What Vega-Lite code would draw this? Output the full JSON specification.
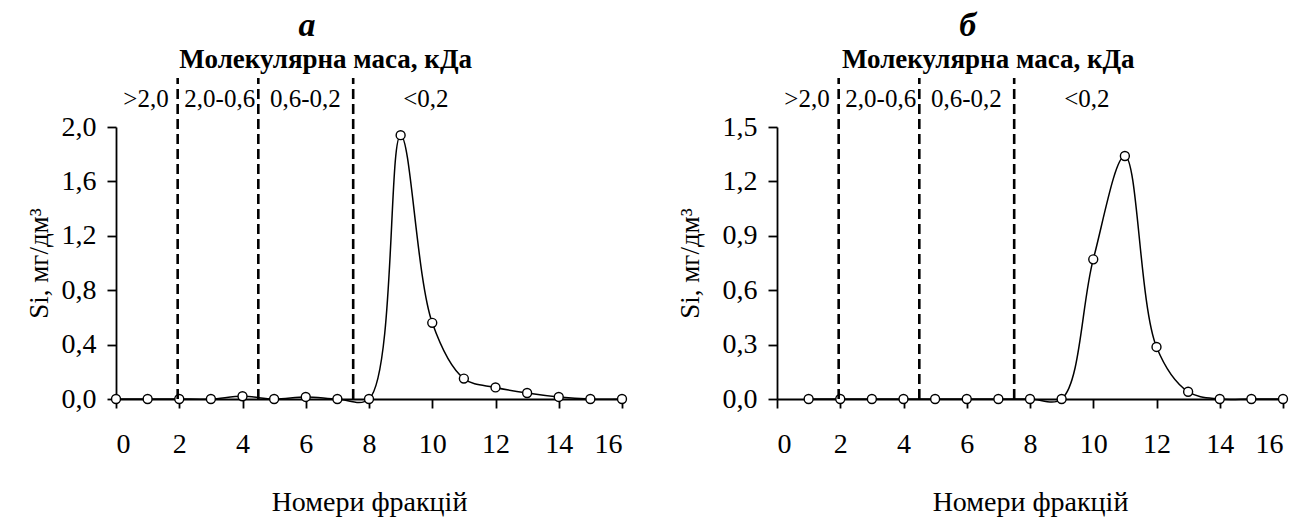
{
  "$schema": "https://vega.github.io/schema/vega-lite/v6.json",
  "padding": {"left": 25, "top": 8, "right": 5, "bottom": 5},
  "background": "white",
  "config": {
    "font": "Liberation Serif",
    "view": {"stroke": null},
    "axis": {"grid": false, "domainColor": "black", "domainWidth": 1.8, "tickColor": "black", "tickWidth": 1.8, "tickSize": 9, "labelColor": "black", "labelFont": "Liberation Serif", "labelFontSize": 28, "titleFont": "Liberation Serif", "titleFontSize": 28, "titleFontWeight": "normal", "titleColor": "black"},
    "concat": {"spacing": 46}
  },
  "datasets": {
    "a": [
      {"fraction": 0, "si": 0}, {"fraction": 1, "si": 0}, {"fraction": 2, "si": 0}, {"fraction": 3, "si": 0},
      {"fraction": 4, "si": 0.02}, {"fraction": 5, "si": 0}, {"fraction": 6, "si": 0.015}, {"fraction": 7, "si": 0},
      {"fraction": 8, "si": 0}, {"fraction": 9, "si": 1.94}, {"fraction": 10, "si": 0.56}, {"fraction": 11, "si": 0.15},
      {"fraction": 12, "si": 0.085}, {"fraction": 13, "si": 0.044}, {"fraction": 14, "si": 0.015}, {"fraction": 15, "si": 0},
      {"fraction": 16, "si": 0}
    ],
    "b": [
      {"fraction": 1, "si": 0}, {"fraction": 2, "si": 0}, {"fraction": 3, "si": 0},
      {"fraction": 4, "si": 0}, {"fraction": 5, "si": 0}, {"fraction": 6, "si": 0}, {"fraction": 7, "si": 0},
      {"fraction": 8, "si": 0}, {"fraction": 9, "si": 0}, {"fraction": 10, "si": 0.77}, {"fraction": 11, "si": 1.34},
      {"fraction": 12, "si": 0.287}, {"fraction": 13, "si": 0.04}, {"fraction": 14, "si": 0}, {"fraction": 15, "si": 0},
      {"fraction": 16, "si": 0}
    ],
    "bounds": [{"x": 1.95}, {"x": 4.5}, {"x": 7.5}],
    "ranges": [{"label": ">2,0", "x": 0.95}, {"label": "2,0-0,6", "x": 3.28}, {"label": "0,6-0,2", "x": 5.99}, {"label": "<0,2", "x": 9.8}]
  },
  "hconcat": [
    {
      "width": 506, "height": 272,
      "layer": [
        {
          "data": {"name": "a"},
          "mark": {"type": "line", "interpolate": "catmull-rom", "color": "black", "strokeWidth": 1.5},
          "encoding": {
            "x": {"field": "fraction", "type": "quantitative", "scale": {"domain": [0, 16], "nice": false}, "axis": {"values": [0,2,4,6,8,10,12,14,16], "title": "Номери фракцій", "labelPadding": 22, "titlePadding": 30}},
            "y": {"field": "si", "type": "quantitative", "scale": {"domain": [0, 2], "nice": false}, "axis": {"values": [0,0.4,0.8,1.2,1.6,2.0], "labelExpr": "replace(format(datum.value, '.1f'), '.', ',')", "title": "Si, мг/дм³", "titleFontSize": 27, "labelPadding": 11, "titlePadding": 8}}
          }
        },
        {
          "data": {"name": "a"},
          "mark": {"type": "point", "shape": "circle", "filled": false, "fill": "white", "fillOpacity": 1, "stroke": "black", "strokeWidth": 1.4, "size": 80, "opacity": 1},
          "encoding": {"x": {"field": "fraction", "type": "quantitative"}, "y": {"field": "si", "type": "quantitative"}}
        },
        {
          "data": {"name": "bounds"},
          "mark": {"type": "rule", "strokeDash": [10, 5], "strokeWidth": 2.6, "color": "black"},
          "encoding": {"x": {"field": "x", "type": "quantitative"}, "y": {"datum": 0, "type": "quantitative"}, "y2": {"datum": 2.36}}
        },
        {
          "data": {"name": "ranges"},
          "mark": {"type": "text", "fontSize": 25, "baseline": "alphabetic", "align": "center", "color": "black"},
          "encoding": {"x": {"field": "x", "type": "quantitative"}, "y": {"datum": 2.147, "type": "quantitative"}, "text": {"field": "label"}}
        },
        {
          "data": {"values": [{"t": "Молекулярна маса, кДа"}]},
          "mark": {"type": "text", "fontSize": 27, "fontWeight": "bold", "baseline": "alphabetic", "align": "center", "color": "black"},
          "encoding": {"x": {"datum": 6.63, "type": "quantitative"}, "y": {"datum": 2.434, "type": "quantitative"}, "text": {"field": "t"}}
        },
        {
          "data": {"values": [{"t": "а"}]},
          "mark": {"type": "text", "fontSize": 34, "fontWeight": "bold", "fontStyle": "italic", "baseline": "alphabetic", "align": "center", "color": "black"},
          "encoding": {"x": {"datum": 6.04, "type": "quantitative"}, "y": {"datum": 2.67, "type": "quantitative"}, "text": {"field": "t"}}
        }
      ]
    },
    {
      "width": 506, "height": 272,
      "layer": [
        {
          "data": {"name": "b"},
          "mark": {"type": "line", "interpolate": "catmull-rom", "color": "black", "strokeWidth": 1.5},
          "encoding": {
            "x": {"field": "fraction", "type": "quantitative", "scale": {"domain": [0, 16], "nice": false}, "axis": {"values": [0,2,4,6,8,10,12,14,16], "title": "Номери фракцій", "labelPadding": 22, "titlePadding": 30}},
            "y": {"field": "si", "type": "quantitative", "scale": {"domain": [0, 1.5], "nice": false}, "axis": {"values": [0,0.3,0.6,0.9,1.2,1.5], "labelExpr": "replace(format(datum.value, '.1f'), '.', ',')", "title": "Si, мг/дм³", "titleFontSize": 27, "labelPadding": 11, "titlePadding": 18}}
          }
        },
        {
          "data": {"name": "b"},
          "mark": {"type": "point", "shape": "circle", "filled": false, "fill": "white", "fillOpacity": 1, "stroke": "black", "strokeWidth": 1.4, "size": 80, "opacity": 1},
          "encoding": {"x": {"field": "fraction", "type": "quantitative"}, "y": {"field": "si", "type": "quantitative"}}
        },
        {
          "data": {"name": "bounds"},
          "mark": {"type": "rule", "strokeDash": [10, 5], "strokeWidth": 2.6, "color": "black"},
          "encoding": {"x": {"field": "x", "type": "quantitative"}, "y": {"datum": 0, "type": "quantitative"}, "y2": {"datum": 1.77}}
        },
        {
          "data": {"name": "ranges"},
          "mark": {"type": "text", "fontSize": 25, "baseline": "alphabetic", "align": "center", "color": "black"},
          "encoding": {"x": {"field": "x", "type": "quantitative"}, "y": {"datum": 1.61, "type": "quantitative"}, "text": {"field": "label"}}
        },
        {
          "data": {"values": [{"t": "Молекулярна маса, кДа"}]},
          "mark": {"type": "text", "fontSize": 27, "fontWeight": "bold", "baseline": "alphabetic", "align": "center", "color": "black"},
          "encoding": {"x": {"datum": 6.68, "type": "quantitative"}, "y": {"datum": 1.826, "type": "quantitative"}, "text": {"field": "t"}}
        },
        {
          "data": {"values": [{"t": "б"}]},
          "mark": {"type": "text", "fontSize": 34, "fontWeight": "bold", "fontStyle": "italic", "baseline": "alphabetic", "align": "center", "color": "black"},
          "encoding": {"x": {"datum": 6.03, "type": "quantitative"}, "y": {"datum": 2.0, "type": "quantitative"}, "text": {"field": "t"}}
        }
      ]
    }
  ]
}
